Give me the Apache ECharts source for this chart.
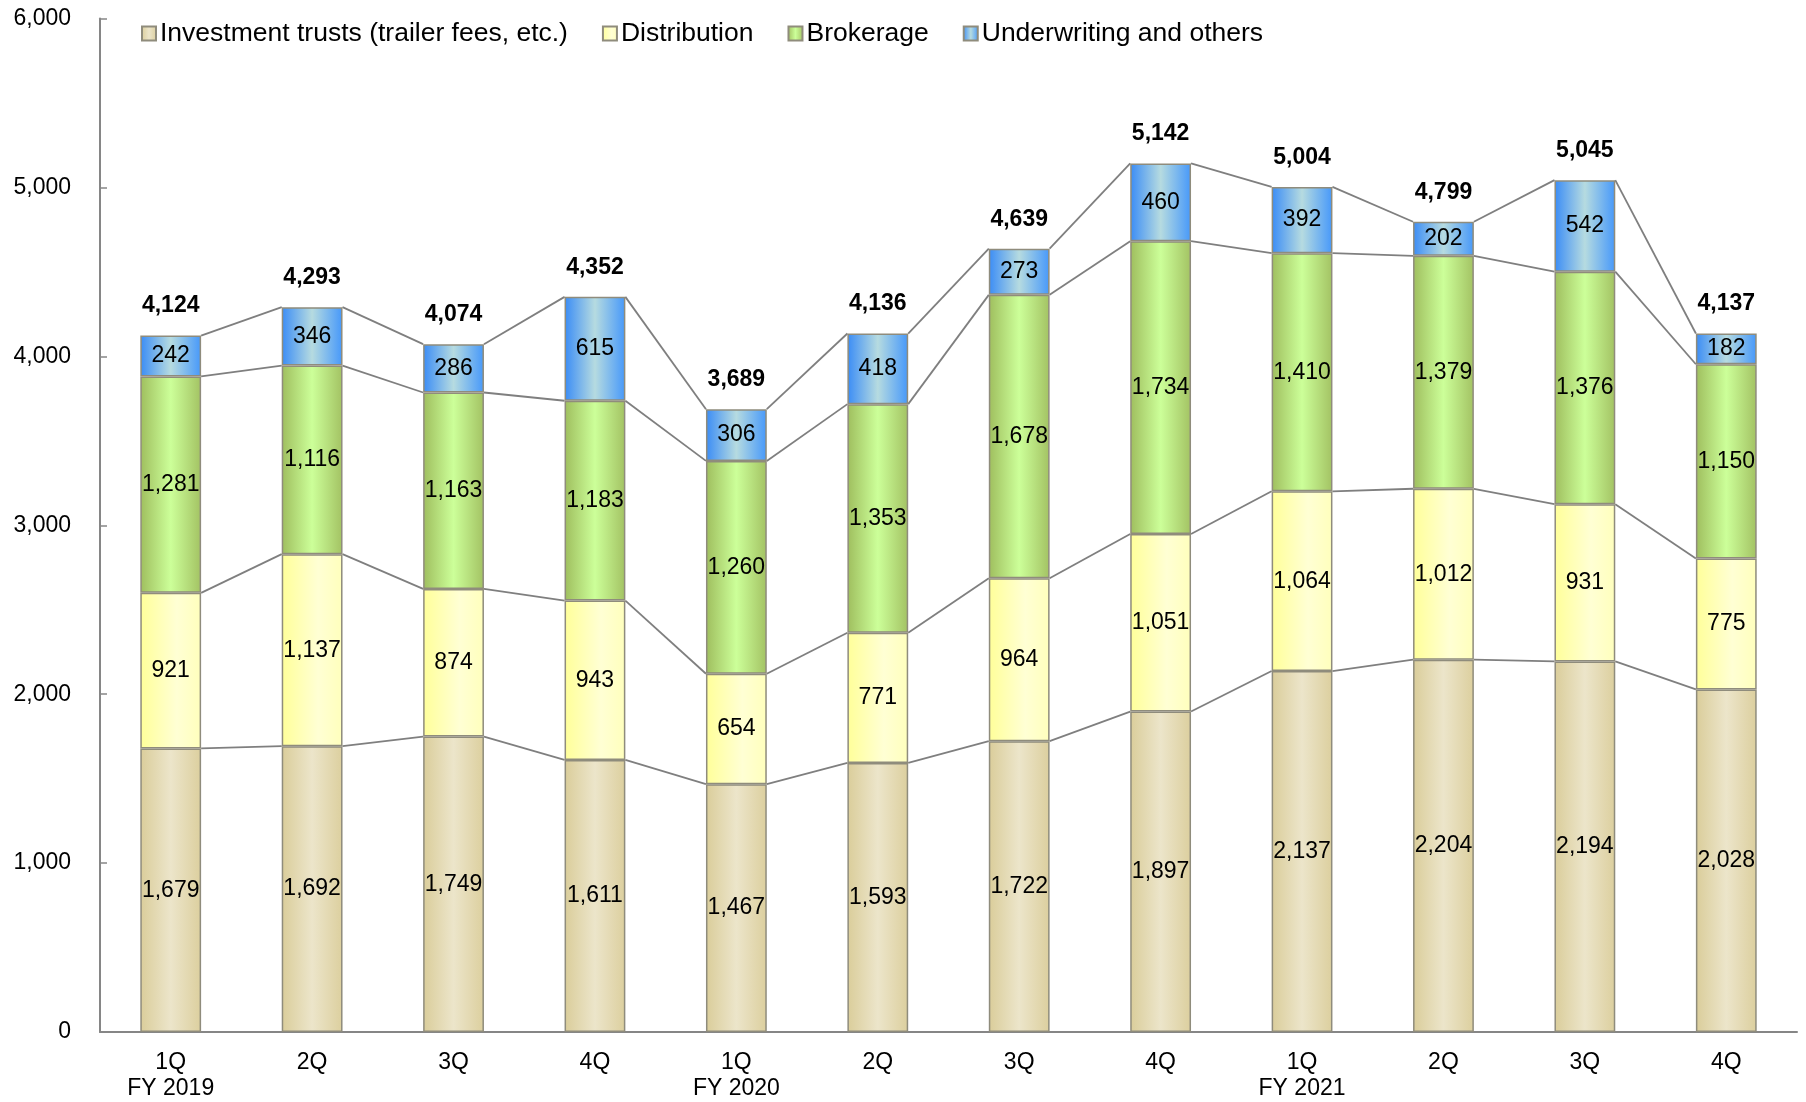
<!DOCTYPE html>
<html>
<head>
<meta charset="utf-8">
<script src="https://cdn.jsdelivr.net/npm/echarts@6/dist/echarts.min.js"></script>
<style>
  html, body { margin: 0; padding: 0; background: #fff; }
  #chart { width: 1806px; height: 1102px; }
</style>
</head>
<body>
<div id="chart"></div>
<script>
const categories = [
  "1Q\nFY 2019", "2Q", "3Q", "4Q",
  "1Q\nFY 2020", "2Q", "3Q", "4Q",
  "1Q\nFY 2021", "2Q", "3Q", "4Q",
];
const investmentTrusts = [1679, 1692, 1749, 1611, 1467, 1593, 1722, 1897, 2137, 2204, 2194, 2028];
const distribution = [921, 1137, 874, 943, 654, 771, 964, 1051, 1064, 1012, 931, 775];
const brokerage = [1281, 1116, 1163, 1183, 1260, 1353, 1678, 1734, 1410, 1379, 1376, 1150];
const underwriting = [242, 346, 286, 615, 306, 418, 273, 460, 392, 202, 542, 182];
const totals = [4124, 4293, 4074, 4352, 3689, 4136, 4639, 5142, 5004, 4799, 5045, 4137];
const yTicks = [0, 1000, 2000, 3000, 4000, 5000, 6000];

const FONT = "'Liberation Sans', Arial, sans-serif";
const BAR_RATIO = 0.43;

const fmt = (v) => v.toLocaleString("en-US");

// horizontal gradient for the bars (dark edges, light middle)
function grad(stops) {
  return new echarts.graphic.LinearGradient(0, 0, 1, 0,
    stops.map((c) => ({ offset: c[0], color: c[1] })));
}

const colors = {
  trusts: grad([[0, "#dacd9a"], [0.5, "#ece5ca"], [1, "#dccf9e"]]),
  dist: grad([[0, "#ffff99"], [0.6, "#ffffd4"], [1, "#ffffbc"]]),
  broker: grad([[0, "#9fbe5e"], [0.5, "#ccff99"], [1, "#a3c263"]]),
  under: grad([[0, "#3a8cf6"], [0.5, "#b6dbe0"], [1, "#4698fa"]]),
};

// cumulative stack levels for the connector lines
const levels = categories.map((_, i) => {
  const a = investmentTrusts[i];
  const b = a + distribution[i];
  const c = b + brokerage[i];
  const d = c + underwriting[i];
  return [a, b, c, d];
});
const connectorData = [];
for (let i = 0; i < categories.length - 1; i++) {
  connectorData.push([i, ...levels[i], ...levels[i + 1]]);
}

const labelStyle = {
  show: true,
  position: "inside",
  color: "#000",
  fontSize: 23,
  fontFamily: FONT,
  formatter: (p) => fmt(p.value),
};

function barSeries(name, data, color) {
  return {
    name,
    type: "bar",
    stack: "total",
    barWidth: BAR_RATIO * 100 + "%",
    data,
    itemStyle: { color, borderColor: "#8f8c7c", borderWidth: 1.5 },
    label: labelStyle,
    emphasis: { disabled: true },
    z: 3,
  };
}

const chart = echarts.init(document.getElementById("chart"), null, { renderer: "canvas" });

chart.setOption({
  animation: false,
  backgroundColor: "#fff",
  textStyle: { fontFamily: FONT },
  grid: { left: 100, right: 9, top: 18.5, bottom: 69 },
  legend: {
    data: ["Investment trusts (trailer fees, etc.)", "Distribution", "Brokerage", "Underwriting and others"],
    left: 136,
    top: 15,
    icon: "rect",
    itemWidth: 14,
    itemHeight: 14,
    itemGap: 34,
    textStyle: { fontSize: 26.5, color: "#000", fontFamily: FONT, padding: [0, 0, 0, -1] },
  },
  xAxis: {
    type: "category",
    data: categories,
    axisLine: { lineStyle: { color: "#868686", width: 2 } },
    axisTick: { inside: true, length: 7, lineStyle: { color: "#868686", width: 1.5 } },
    axisLabel: {
      interval: 0,
      margin: 18,
      color: "#000",
      fontSize: 23,
      lineHeight: 26,
      fontFamily: FONT,
    },
  },
  yAxis: {
    type: "value",
    min: yTicks[0],
    max: yTicks[yTicks.length - 1],
    interval: 1000,
    axisLine: { show: true, lineStyle: { color: "#868686", width: 2 } },
    axisTick: { show: true, inside: true, length: 7, lineStyle: { color: "#868686", width: 1.5 } },
    splitLine: { show: false },
    axisLabel: { margin: 29, color: "#000", fontSize: 23, fontFamily: FONT, formatter: (v) => fmt(v) },
  },
  series: [
    {
      type: "custom",
      name: "connectors",
      data: connectorData,
      z: 1,
      silent: true,
      renderItem: (params, api) => {
        const i = api.value(0);
        const half = (api.size([1, 0])[0] * BAR_RATIO) / 2;
        const children = [];
        for (let k = 0; k < 4; k++) {
          const p0 = api.coord([i, api.value(1 + k)]);
          const p1 = api.coord([i + 1, api.value(5 + k)]);
          children.push({
            type: "line",
            shape: { x1: p0[0] + half, y1: p0[1], x2: p1[0] - half, y2: p1[1] },
            style: { stroke: "#7f7f7f", lineWidth: 1.8 },
          });
        }
        return { type: "group", children };
      },
    },
    barSeries("Investment trusts (trailer fees, etc.)", investmentTrusts, colors.trusts),
    barSeries("Distribution", distribution, colors.dist),
    barSeries("Brokerage", brokerage, colors.broker),
    barSeries("Underwriting and others", underwriting, colors.under),
    {
      name: "Total",
      type: "bar",
      stack: "total",
      barWidth: BAR_RATIO * 100 + "%",
      data: totals.map(() => 0),
      itemStyle: { color: "transparent", borderWidth: 0 },
      label: {
        show: true,
        position: "top",
        distance: 18,
        color: "#000",
        fontSize: 23,
        fontWeight: "bold",
        fontFamily: FONT,
        formatter: (p) => fmt(totals[p.dataIndex]),
      },
      emphasis: { disabled: true },
      z: 4,
    },
  ],
});

window.addEventListener("resize", () => chart.resize());
</script>
</body>
</html>
